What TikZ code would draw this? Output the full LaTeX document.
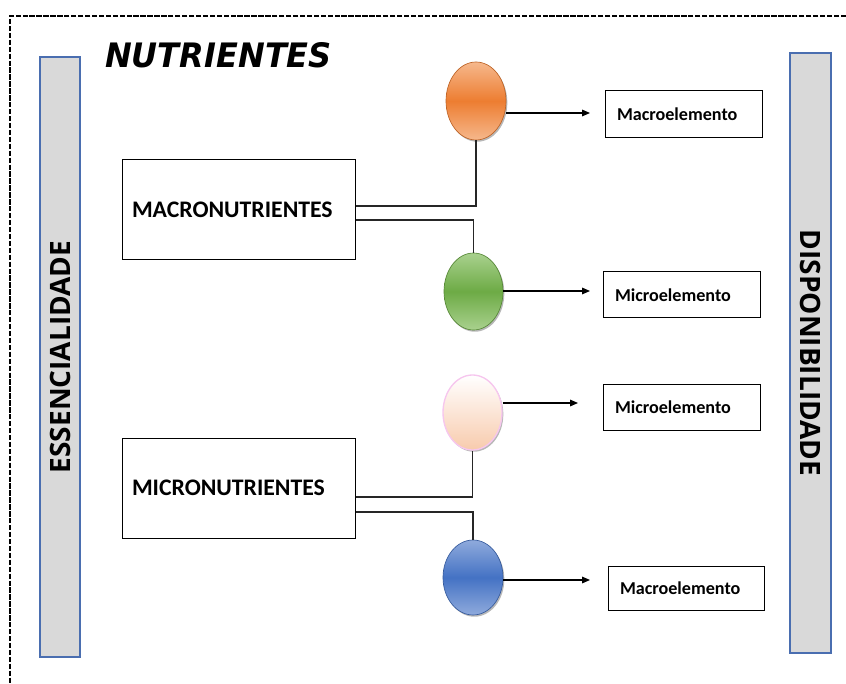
\documentclass[tikz,border=0pt]{standalone}
\usepackage{fontspec}
\setmainfont{Carlito}
\newfontfamily\barfont{Open Sans}
\newfontfamily\ttlfont{DejaVu Sans}
\usetikzlibrary{shapes.geometric,shadows,arrows.meta}
\definecolor{orgmain}{HTML}{ED7D31}
\definecolor{orglight}{HTML}{F6B88C}
\definecolor{grnmain}{HTML}{6DAA45}
\definecolor{grnlight}{HTML}{A9D18E}
\definecolor{blumain}{HTML}{4472C4}
\definecolor{blulight}{HTML}{8FAADC}
\definecolor{peach}{HTML}{F8CBAD}
\definecolor{pinkline}{HTML}{F6C6EE}
\definecolor{bargray}{HTML}{D9D9D9}
\definecolor{barline}{HTML}{4A6EB0}
\tikzset{
  ball/.style={ellipse, inner sep=0pt, minimum width=45pt,
    drop shadow={shadow xshift=1pt, shadow yshift=-1.3pt, opacity=0.4, fill=black!70}},
  nutbox/.style={draw, line width=0.75pt, minimum height=75pt, text width=159.75pt,
    inner xsep=7.5pt, align=left, font=\bfseries\fontsize{17.8}{20}\selectfont},
  elbox/.style={draw, line width=0.75pt, minimum height=35pt, text width=99.75pt,
    inner xsep=9pt, align=left, font=\bfseries\fontsize{13.6}{15}\selectfont},
  barbox/.style={draw=barline, fill=bargray, line width=1.1pt, minimum width=450pt,
    minimum height=30pt, inner sep=0pt, font=\barfont\bfseries\fontsize{21}{22}\selectfont},
  conn/.style={line width=0.8pt, black!85},
  arr/.style={line width=0.8pt, black, -{Triangle[length=6pt,width=5pt]}},
  frame/.style={line width=1.1pt, dash pattern=on 4pt off 1.2pt}
}
\begin{document}
\begin{tikzpicture}[x=0.75pt,y=-0.75pt]
\useasboundingbox (0,0) rectangle (846,684);
\draw[frame] (846,16) -- (10,16) -- (10,684);

\node[barbox, rotate=90] (ess) at (60,357) {ESSENCIALIDADE};
\node[barbox, rotate=-90, minimum height=30.75pt] (disp) at (810.5,353) {DISPONIBILIDADE};

\node[inner sep=0pt] (title) at (218.5,55.5) {\resizebox{170pt}{18.75pt}{\ttlfont\bfseries\itshape NUTRIENTES}};

\node[nutbox] (macro) at (238.5,210) {MACRONUTRIENTES};
\node[nutbox] (micro) at (238.5,488) {MICRONUTRIENTES};

\node[ball, minimum height=58.5pt, draw=orgmain!80!black, line width=0.5pt,
  top color=orglight, bottom color=orglight, middle color=orgmain] (orange) at (476,101) {};
\node[ball, minimum height=57.75pt, minimum width=44.25pt, draw=grnmain!80!black, line width=0.5pt,
  top color=grnlight, bottom color=grnlight, middle color=grnmain] (green) at (473.5,291.5) {};
\node[ball, minimum height=56.25pt, minimum width=44.25pt, draw=pinkline, line width=1pt,
  top color=white, bottom color=peach] (peachb) at (472.5,412.5) {};
\node[ball, minimum height=56.25pt, draw=blumain!80!black, line width=0.5pt,
  top color=blulight, bottom color=blulight, middle color=blumain] (blue) at (473,577.5) {};

\node[elbox] (e1) at (683.5,114) {Macroelemento};
\node[elbox, minimum height=34.5pt] (e2) at (681.5,295) {Microelemento};
\node[elbox, minimum height=34.5pt] (e3) at (681.5,407) {Microelemento};
\node[elbox, minimum height=33pt, text width=99pt] (e4) at (686,588) {Macroelemento};

\draw[conn] ([yshift=3pt]macro.east) -| (orange.south);
\draw[conn] ([yshift=-7.5pt]macro.east) -| (green.north);
\draw[conn] ([yshift=-6.75pt]micro.east) -| (peachb.south);
\draw[conn] ([yshift=-18pt]micro.east) -| (blue.north);

\coordinate (a1) at (590,113);
\coordinate (a2) at (590,291);
\coordinate (a3) at (578,403);
\coordinate (a4) at (590,580);
\draw[arr] (orange.east |- a1) -- (a1);
\draw[arr] (green.east |- a2) -- (a2);
\draw[arr] (peachb.east |- a3) -- (a3);
\draw[arr] (blue.east |- a4) -- (a4);
\end{tikzpicture}
\end{document}
